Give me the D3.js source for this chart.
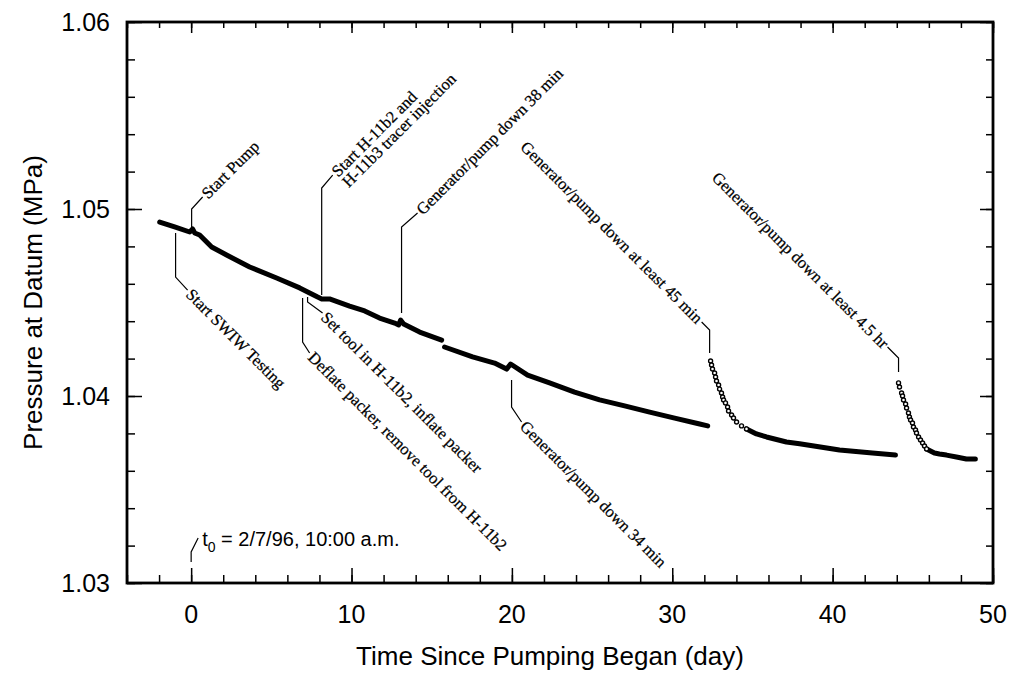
<!DOCTYPE html>
<html>
<head>
<meta charset="utf-8">
<script src="https://cdn.jsdelivr.net/npm/d3@7"></script>
<style>
  body { margin: 0; background: #fff; }
  text { fill: #000; }
  .tick-label { font-family: "Liberation Sans", Arial, sans-serif; font-size: 25px; }
  .axis-title { font-family: "Liberation Sans", Arial, sans-serif; font-size: 26px; }
  .note { font-family: "Liberation Serif", "Times New Roman", serif; font-size: 16.5px; stroke: #000; stroke-width: 0.25px; }
</style>
</head>
<body>
<div id="chart"></div>
<script>
// pressure record (day, MPa)
let seg1Day = [-1.96, -1.03, -0.09, 0.09, 0.22, 0.53, 1.28, 2.21, 3.65, 5.33, 6.77, 7.39, 7.89, 8.14, 8.63, 9.88, 10.82, 11.75, 12.69, 12.94, 13.06, 13.25, 14.25, 15.62];
let seg1P = [1.04930, 1.04904, 1.04877, 1.04893, 1.04872, 1.04861, 1.04797, 1.04754, 1.04690, 1.04631, 1.04578, 1.04551, 1.04529, 1.04519, 1.04519, 1.04481, 1.04455, 1.04417, 1.04390, 1.04380, 1.04406, 1.04385, 1.04342, 1.04299];

let seg2Day = [15.80, 17.55, 18.92, 19.67, 19.92, 20.98, 22.35, 23.91, 25.47, 27.03, 28.59, 30.15, 31.71, 32.21];
let seg2P = [1.04262, 1.04209, 1.04176, 1.04144, 1.04171, 1.04112, 1.04070, 1.04021, 1.03979, 1.03947, 1.03914, 1.03882, 1.03850, 1.03840];

// recovery after first long shutdown
let rec1Day = [32.39, 32.45, 32.51, 32.64, 32.70, 32.76, 32.89, 32.95, 33.07, 33.14, 33.20, 33.32, 33.45, 33.51, 33.70, 33.82, 34.01, 34.32, 34.63];
let rec1P = [1.04187, 1.04166, 1.04144, 1.04123, 1.04102, 1.04080, 1.04059, 1.04037, 1.04016, 1.03995, 1.03979, 1.03963, 1.03941, 1.03920, 1.03898, 1.03882, 1.03861, 1.03840, 1.03824];
let seg3Day = [34.63, 35.25, 35.88, 37.12, 37.94, 40.43, 42.48, 43.92];
let seg3P = [1.03824, 1.03797, 1.03781, 1.03754, 1.03745, 1.03711, 1.03695, 1.03684];

// recovery after second long shutdown
let rec2Day = [44.11, 44.17, 44.30, 44.36, 44.42, 44.55, 44.61, 44.73, 44.79, 44.86, 44.98, 45.04, 45.17, 45.23, 45.36, 45.48, 45.61, 45.73, 45.86];
let rec2P = [1.04070, 1.04048, 1.04016, 1.04000, 1.03979, 1.03957, 1.03936, 1.03909, 1.03888, 1.03872, 1.03856, 1.03834, 1.03818, 1.03802, 1.03781, 1.03765, 1.03749, 1.03733, 1.03717];
let seg4Day = [45.86, 46.10, 46.35, 46.66, 47.10, 47.72, 48.34, 48.90];
let seg4P = [1.03717, 1.03706, 1.03695, 1.03690, 1.03684, 1.03674, 1.03663, 1.03663];

let xTicks = [0, 10, 20, 30, 40, 50];
let yTicks = [1.03, 1.04, 1.05, 1.06];

// annotations: day of the event, leader start / knee pressure, diagonal in px
let notes = [
  {lines: ['Start Pump'], day: 0.03, p0: 1.04895, p1: 1.05000, dx: 11, dy: -12, rot: -45, anchor: 'start'},
  {lines: ['Start SWIW Testing'], day: -0.97, p0: 1.04872, p1: 1.04636, dx: 12, dy: 13, rot: 45, anchor: 'start'},
  {lines: ['Start H-11b2 and', 'H-11b3 tracer injection'], day: 8.14, p0: 1.04540, p1: 1.05112, dx: 11, dy: -13, rot: -45, anchor: 'start'},
  {lines: ['Generator/pump down 38 min'], day: 13.12, p0: 1.04444, p1: 1.04904, dx: 16, dy: -14, rot: -45, anchor: 'start'},
  {lines: ['Set tool in H-11b2, inflate packer'], day: 7.26, p0: 1.04529, p1: 1.04503, dx: 15, dy: 11, rot: 45, anchor: 'start'},
  {lines: ['Deflate packer, remove tool from H-11b2'], day: 6.95, p0: 1.04524, p1: 1.04289, dx: 7, dy: 11, rot: 45, anchor: 'start'},
  {lines: ['Generator/pump down 34 min'], day: 19.98, p0: 1.04086, p1: 1.03941, dx: 10, dy: 15, rot: 45, anchor: 'start'},
  {lines: ['Generator/pump down at least 45 min'], day: 32.33, p0: 1.04230, p1: 1.04353, dx: -8, dy: -8, rot: 45, anchor: 'end'},
  {lines: ['Generator/pump down at least 4.5 hr'], day: 44.11, p0: 1.04128, p1: 1.04203, dx: -11, dy: -11, rot: 45, anchor: 'end'}
];

let margin = {top: 22, right: 23, bottom: 95, left: 127};
let W = 1016, H = 678;
let width = W - margin.left - margin.right;
let height = H - margin.top - margin.bottom;

let svg = d3.select('#chart').append('svg')
  .attr('width', W).attr('height', H);
let g = svg.append('g').attr('transform', `translate(${margin.left},${margin.top})`);

let x = d3.scaleLinear().domain([-4, 50]).range([0, width]);
let y = d3.scaleLinear().domain([1.03, 1.06]).range([height, 0]);

let minorX = d3.range(-4, 50.1, 2);
let minorY = d3.range(1.03, 1.0601, 0.002);

// inward ticks on all four sides
function ticks(axis, vals, size) {
  return axis.tickValues(vals).tickSize(size).tickFormat('');
}
let axes = [
  [() => d3.axisBottom(x), `translate(0,${height})`, minorX, -8, xTicks, -15],
  [() => d3.axisTop(x), 'translate(0,0)', minorX, -6, xTicks, -11],
  [() => d3.axisLeft(y), 'translate(0,0)', minorY, -8, yTicks, -15],
  [() => d3.axisRight(y), `translate(${width},0)`, minorY, -7, yTicks, -13]
];
axes.forEach(function(a) {
  let minor = g.append('g').attr('transform', a[1]).call(ticks(a[0](), a[2], a[3]));
  let major = g.append('g').attr('transform', a[1]).call(ticks(a[0](), a[4], a[5]));
  [minor, major].forEach(function(s) {
    s.select('.domain').remove();
    s.selectAll('line').attr('stroke', '#000').attr('stroke-width', 1.5);
  });
});

// frame
g.append('rect').attr('width', width).attr('height', height)
  .attr('fill', 'none').attr('stroke', '#000').attr('stroke-width', 2.8);

// tick labels
g.selectAll('.xl').data(xTicks).enter().append('text')
  .attr('class', 'tick-label')
  .attr('x', d => x(d)).attr('y', height + 40)
  .attr('text-anchor', 'middle').text(d => d);
g.selectAll('.yl').data(yTicks).enter().append('text')
  .attr('class', 'tick-label')
  .attr('x', -17).attr('y', d => y(d)).attr('dy', '0.35em')
  .attr('text-anchor', 'end').text(d => d3.format('.2f')(d));

g.append('text').attr('class', 'axis-title')
  .attr('x', width / 2 - 10).attr('y', height + 82)
  .attr('text-anchor', 'middle').text('Time Since Pumping Began (day)');
g.append('text').attr('class', 'axis-title')
  .attr('transform', `translate(-85,${height / 2}) rotate(-90)`)
  .attr('text-anchor', 'middle').text('Pressure at Datum (MPa)');

// data
let line = d3.line().x(d => x(d[0])).y(d => y(d[1]));
let zip = (a, b) => a.map((v, i) => [v, b[i]]);

[[seg1Day, seg1P], [seg2Day, seg2P], [seg3Day, seg3P], [seg4Day, seg4P]].forEach(function(s) {
  g.append('path').datum(zip(s[0], s[1]))
    .attr('d', line).attr('fill', 'none')
    .attr('stroke', '#000').attr('stroke-width', 5)
    .attr('stroke-linejoin', 'round').attr('stroke-linecap', 'round');
});
[[rec1Day, rec1P], [rec2Day, rec2P]].forEach(function(s) {
  g.selectAll(null).data(zip(s[0], s[1])).enter().append('circle')
    .attr('cx', d => x(d[0])).attr('cy', d => y(d[1])).attr('r', 2)
    .attr('fill', '#fff').attr('stroke', '#000').attr('stroke-width', 1.4);
});

// annotations
notes.forEach(function(n) {
  let x0 = x(n.day), ya = y(n.p0), yb = y(n.p1);
  let ex = x0 + n.dx, ey = yb + n.dy;
  g.append('polyline')
    .attr('points', `${x0},${ya} ${x0},${yb} ${ex},${ey}`)
    .attr('fill', 'none').attr('stroke', '#000').attr('stroke-width', 1.2);
  let t = g.append('text').attr('class', 'note')
    .attr('transform', `translate(${ex},${ey}) rotate(${n.rot})`)
    .attr('text-anchor', n.anchor);
  n.lines.forEach(function(l, i) {
    t.append('tspan').attr('x', n.anchor === 'start' ? 2 : -2)
      .attr('y', i * 15).attr('dy', '0.35em').text(l);
  });
});

// t0 note
let t0x = x(0), t0y0 = y(1.03112), t0y1 = y(1.03166);
g.append('polyline')
  .attr('points', `${t0x},${t0y0} ${t0x},${t0y1} ${t0x + 7},${t0y1 - 14}`)
  .attr('fill', 'none').attr('stroke', '#000').attr('stroke-width', 1.2);
let t0 = g.append('text').attr('class', 'tick-label').style('font-size', '20px')
  .attr('x', t0x + 11).attr('y', t0y1 - 6);
t0.append('tspan').text('t');
t0.append('tspan').attr('dy', 6).style('font-size', '14px').text('0');
t0.append('tspan').attr('dy', -6).text(' = 2/7/96, 10:00 a.m.');
</script>
</body>
</html>
